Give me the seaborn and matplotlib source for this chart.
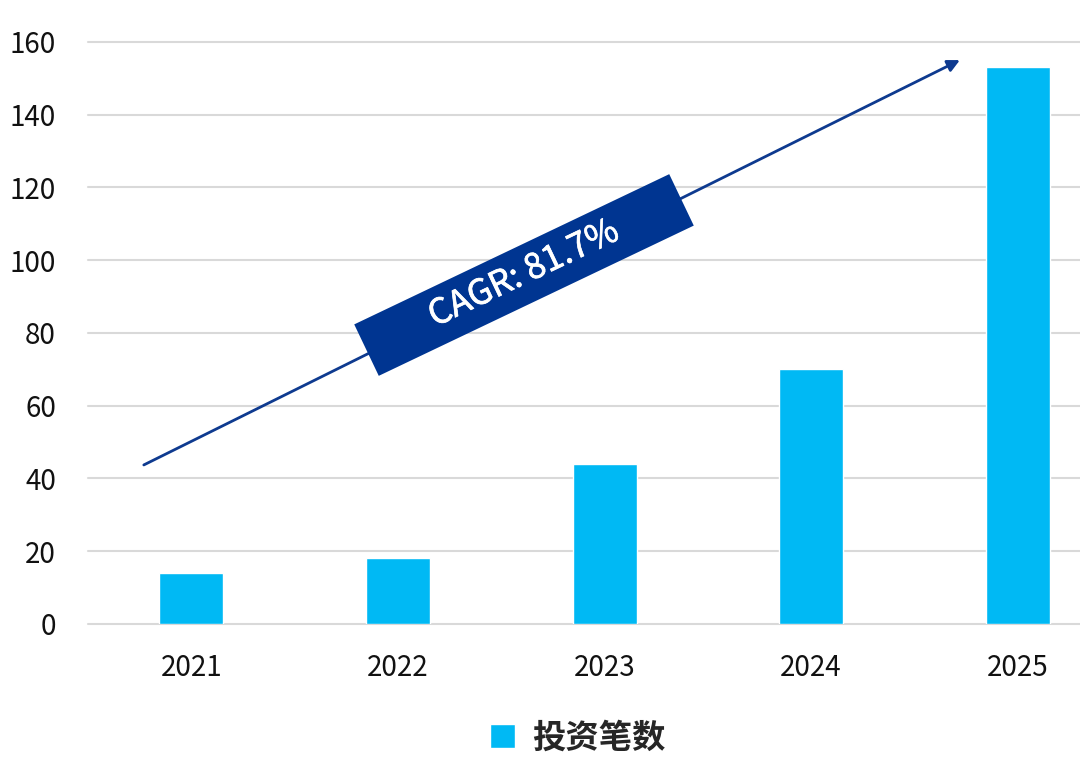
import matplotlib
matplotlib.use('Agg')
import matplotlib.pyplot as plt
import matplotlib.patches as mpatches
import matplotlib.transforms as mtransforms
import matplotlib.patheffects as pe
import pandas as pd
import seaborn as sns

# data
years = ['2021', '2022', '2023', '2024', '2025']
deal_counts = [14, 18, 44, 70, 153]
series_name = '投资笔数'
cagr_label = 'CAGR: 81.7%'
y_ticks = [0, 20, 40, 60, 80, 100, 120, 140, 160]

bar_color = '#00B9F4'
navy = '#003591'
arrow_color = '#0E3A8F'
grid_color = '#D9D9D9'

sns.set_theme(style='white')
plt.rcParams['font.family'] = ['Noto Sans CJK SC', 'DejaVu Sans']

df = pd.DataFrame({'year': years, 'count': deal_counts, 'series': series_name})

fig = plt.figure(figsize=(10.8, 7.76), dpi=100)
ax = fig.add_axes([0.0815, 0.196, 0.9565, 0.75])

sns.barplot(data=df, x='year', y='count', hue='series', palette=[bar_color],
            saturation=1, width=0.31, ax=ax, legend=True)

ax.set_ylim(0, 160)
ax.set_xlim(-0.5, 4.5)
ax.set_yticks(y_ticks)
ax.yaxis.grid(True, color=grid_color, linewidth=1.5)
ax.set_axisbelow(True)
for sp in ax.spines.values():
    sp.set_visible(False)
ax.tick_params(axis='y', length=0, pad=23, labelsize=20, labelcolor='#111111')
ax.tick_params(axis='x', length=0, pad=21, labelsize=20, labelcolor='#111111')
ax.set_xlabel('')
ax.set_ylabel('')
for gl in ax.get_ygridlines():
    gl.set_clip_on(False)

# trend arrow
ax.annotate('', xy=(3.72, 155), xytext=(-0.23, 43.7),
            arrowprops=dict(arrowstyle='-|>', color=arrow_color, lw=2,
                            mutation_scale=18, shrinkA=0, shrinkB=0))

# rotated CAGR box (inches in figure space)
cx, cy, w, h, ang = 5.24, 5.01, 3.49, 0.57, 25.5
rect = mpatches.Rectangle((cx - w / 2, cy - h / 2), w, h, facecolor=navy,
                          edgecolor='none',
                          transform=mtransforms.Affine2D().rotate_deg_around(cx, cy, ang) + fig.dpi_scale_trans,
                          zorder=5)
fig.add_artist(rect)
fig.text(cx, cy + 0.01, cagr_label, transform=fig.dpi_scale_trans, rotation=ang,
         rotation_mode='anchor', ha='center', va='center', color='white',
         fontsize=25, fontweight='normal', zorder=6,
         path_effects=[pe.withStroke(linewidth=0.5, foreground='white')])

# legend at bottom
handles, labels = ax.get_legend_handles_labels()
ax.get_legend().remove()
fig.legend(handles, labels, loc='center', bbox_to_anchor=(0.535, 0.049),
           frameon=False, handlelength=0.75, handleheight=0.75, handletextpad=0.5,
           prop={'size': 24, 'weight': 'bold', 'family': ['Noto Sans CJK SC', 'DejaVu Sans']})

fig.savefig('out.png', dpi=100)
